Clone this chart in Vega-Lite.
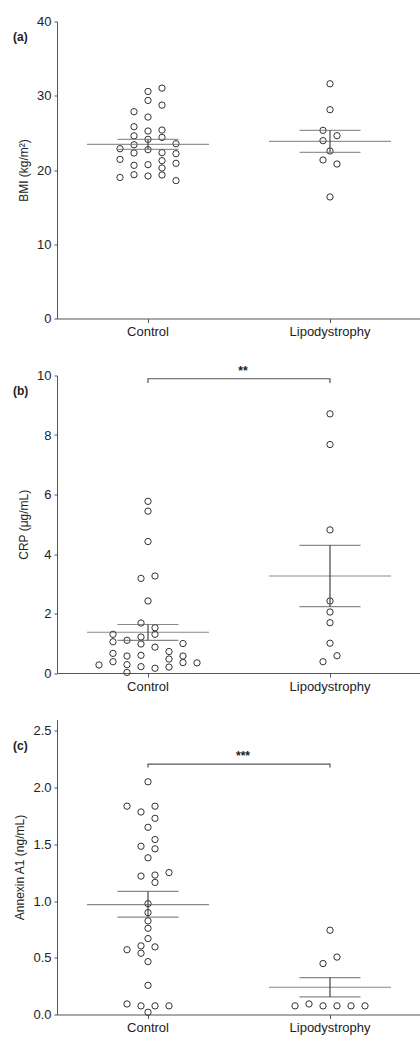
{
  "$schema": "https://vega.github.io/schema/vega-lite/v6.json",
  "padding": {"top": 15.5, "left": 13, "right": 0, "bottom": 0},
  "spacing": 26,
  "config": {
    "font": "Liberation Sans",
    "view": {"stroke": null},
    "axis": {"grid": false, "domainColor": "#555", "tickColor": "#555", "tickSize": 3, "labelFontSize": 13, "titleFontSize": 12, "titleFontWeight": "normal", "labelColor": "#222", "titleColor": "#222", "labelPadding": 3, "titlePadding": 6}
  },
  "datasets": {
    "bmi": [
      {"g": "Control", "c": -4, "v": 22.87}, {"g": "Control", "c": -4, "v": 21.43}, {"g": "Control", "c": -4, "v": 19.0},
      {"g": "Control", "c": -2, "v": 27.85}, {"g": "Control", "c": -2, "v": 25.83}, {"g": "Control", "c": -2, "v": 24.6}, {"g": "Control", "c": -2, "v": 23.4}, {"g": "Control", "c": -2, "v": 22.29}, {"g": "Control", "c": -2, "v": 20.63}, {"g": "Control", "c": -2, "v": 19.37},
      {"g": "Control", "c": 0, "v": 30.58}, {"g": "Control", "c": 0, "v": 29.37}, {"g": "Control", "c": 0, "v": 27.13}, {"g": "Control", "c": 0, "v": 25.25}, {"g": "Control", "c": 0, "v": 24.13}, {"g": "Control", "c": 0, "v": 22.74}, {"g": "Control", "c": 0, "v": 20.72}, {"g": "Control", "c": 0, "v": 19.19},
      {"g": "Control", "c": 2, "v": 31.03}, {"g": "Control", "c": 2, "v": 28.74}, {"g": "Control", "c": 2, "v": 25.38}, {"g": "Control", "c": 2, "v": 24.39}, {"g": "Control", "c": 2, "v": 22.33}, {"g": "Control", "c": 2, "v": 21.26}, {"g": "Control", "c": 2, "v": 20.27}, {"g": "Control", "c": 2, "v": 19.33},
      {"g": "Control", "c": 4, "v": 23.54}, {"g": "Control", "c": 4, "v": 22.2}, {"g": "Control", "c": 4, "v": 20.9}, {"g": "Control", "c": 4, "v": 18.57},
      {"g": "Lipodystrophy", "c": 0, "v": 31.61}, {"g": "Lipodystrophy", "c": 0, "v": 28.12}, {"g": "Lipodystrophy", "c": 0, "v": 22.56}, {"g": "Lipodystrophy", "c": 0, "v": 16.37},
      {"g": "Lipodystrophy", "c": -1, "v": 25.34}, {"g": "Lipodystrophy", "c": -1, "v": 23.95}, {"g": "Lipodystrophy", "c": -1, "v": 21.35},
      {"g": "Lipodystrophy", "c": 1, "v": 24.62}, {"g": "Lipodystrophy", "c": 1, "v": 20.81}
    ],
    "bmiStats": [
      {"g": "Control", "mean": 23.45, "lo": 22.78, "hi": 24.13},
      {"g": "Lipodystrophy", "mean": 23.86, "lo": 22.38, "hi": 25.34}
    ],
    "bmiTag": [{"g": "Control", "y": 40, "t": "(a)"}],
    "crp": [
      {"g": "Control", "c": -7, "v": 0.27},
      {"g": "Control", "c": -5, "v": 1.30}, {"g": "Control", "c": -5, "v": 1.05}, {"g": "Control", "c": -5, "v": 0.66}, {"g": "Control", "c": -5, "v": 0.38},
      {"g": "Control", "c": -3, "v": 1.10}, {"g": "Control", "c": -3, "v": 0.57}, {"g": "Control", "c": -3, "v": 0.28}, {"g": "Control", "c": -3, "v": 0.02},
      {"g": "Control", "c": -1, "v": 3.18}, {"g": "Control", "c": -1, "v": 1.68}, {"g": "Control", "c": -1, "v": 1.21}, {"g": "Control", "c": -1, "v": 0.975}, {"g": "Control", "c": -1, "v": 0.594}, {"g": "Control", "c": -1, "v": 0.213},
      {"g": "Control", "c": 0, "v": 5.77}, {"g": "Control", "c": 0, "v": 5.44}, {"g": "Control", "c": 0, "v": 4.42}, {"g": "Control", "c": 0, "v": 2.42},
      {"g": "Control", "c": 1, "v": 3.26}, {"g": "Control", "c": 1, "v": 1.52}, {"g": "Control", "c": 1, "v": 1.30}, {"g": "Control", "c": 1, "v": 0.87}, {"g": "Control", "c": 1, "v": 0.16},
      {"g": "Control", "c": 3, "v": 0.72}, {"g": "Control", "c": 3, "v": 0.47}, {"g": "Control", "c": 3, "v": 0.20},
      {"g": "Control", "c": 5, "v": 0.99}, {"g": "Control", "c": 5, "v": 0.57}, {"g": "Control", "c": 5, "v": 0.35},
      {"g": "Control", "c": 7, "v": 0.34},
      {"g": "Lipodystrophy", "c": 0, "v": 8.71}, {"g": "Lipodystrophy", "c": 0, "v": 7.68}, {"g": "Lipodystrophy", "c": 0, "v": 4.81}, {"g": "Lipodystrophy", "c": 0, "v": 2.42}, {"g": "Lipodystrophy", "c": 0, "v": 2.05}, {"g": "Lipodystrophy", "c": 0, "v": 1.69}, {"g": "Lipodystrophy", "c": 0, "v": 1.0},
      {"g": "Lipodystrophy", "c": -1, "v": 0.38}, {"g": "Lipodystrophy", "c": 1, "v": 0.58}
    ],
    "crpStats": [
      {"g": "Control", "mean": 1.37, "lo": 1.10, "hi": 1.63},
      {"g": "Lipodystrophy", "mean": 3.26, "lo": 2.23, "hi": 4.29}
    ],
    "crpBracket": [
      {"g": "Control", "y": 9.75, "o": 1}, {"g": "Control", "y": 9.89, "o": 2},
      {"g": "Lipodystrophy", "y": 9.89, "o": 3}, {"g": "Lipodystrophy", "y": 9.75, "o": 4}
    ],
    "crpSig": [{"g": "Lipodystrophy", "y": 9.93, "t": "**"}],
    "crpTag": [{"g": "Control", "y": 10, "t": "(b)"}],
    "anx": [
      {"g": "Control", "c": -3, "v": 1.836}, {"g": "Control", "c": -3, "v": 0.571}, {"g": "Control", "c": -3, "v": 0.093},
      {"g": "Control", "c": -1, "v": 1.785}, {"g": "Control", "c": -1, "v": 1.483}, {"g": "Control", "c": -1, "v": 1.220}, {"g": "Control", "c": -1, "v": 0.605}, {"g": "Control", "c": -1, "v": 0.540}, {"g": "Control", "c": -1, "v": 0.076},
      {"g": "Control", "c": 0, "v": 2.051}, {"g": "Control", "c": 0, "v": 1.650}, {"g": "Control", "c": 0, "v": 1.381}, {"g": "Control", "c": 0, "v": 0.977}, {"g": "Control", "c": 0, "v": 0.898}, {"g": "Control", "c": 0, "v": 0.825}, {"g": "Control", "c": 0, "v": 0.760}, {"g": "Control", "c": 0, "v": 0.669}, {"g": "Control", "c": 0, "v": 0.466}, {"g": "Control", "c": 0, "v": 0.257}, {"g": "Control", "c": 0, "v": 0.020},
      {"g": "Control", "c": 1, "v": 1.836}, {"g": "Control", "c": 1, "v": 1.729}, {"g": "Control", "c": 1, "v": 1.542}, {"g": "Control", "c": 1, "v": 1.460}, {"g": "Control", "c": 1, "v": 1.229}, {"g": "Control", "c": 1, "v": 1.164}, {"g": "Control", "c": 1, "v": 0.596}, {"g": "Control", "c": 1, "v": 0.076},
      {"g": "Control", "c": 3, "v": 1.251}, {"g": "Control", "c": 3, "v": 0.076},
      {"g": "Lipodystrophy", "c": 0, "v": 0.743}, {"g": "Lipodystrophy", "c": -1, "v": 0.449}, {"g": "Lipodystrophy", "c": 1, "v": 0.506},
      {"g": "Lipodystrophy", "c": -5, "v": 0.076}, {"g": "Lipodystrophy", "c": -3, "v": 0.093}, {"g": "Lipodystrophy", "c": -1, "v": 0.076}, {"g": "Lipodystrophy", "c": 1, "v": 0.076}, {"g": "Lipodystrophy", "c": 3, "v": 0.076}, {"g": "Lipodystrophy", "c": 5, "v": 0.076}
    ],
    "anxStats": [
      {"g": "Control", "mean": 0.969, "lo": 0.859, "hi": 1.085},
      {"g": "Lipodystrophy", "mean": 0.24, "lo": 0.155, "hi": 0.325}
    ],
    "anxBracket": [
      {"g": "Control", "y": 2.176, "o": 1}, {"g": "Control", "y": 2.207, "o": 2},
      {"g": "Lipodystrophy", "y": 2.207, "o": 3}, {"g": "Lipodystrophy", "y": 2.176, "o": 4}
    ],
    "anxSig": [{"g": "Lipodystrophy", "y": 2.22, "t": "***"}],
    "anxTag": [{"g": "Control", "y": 2.5, "t": "(c)"}]
  },
  "vconcat": [
    {
      "width": 364, "height": 297,
      "encoding": {
        "x": {"field": "g", "type": "nominal", "scale": {"domain": ["Control", "Lipodystrophy"], "paddingInner": 0, "paddingOuter": 0}, "axis": {"title": null, "labelAngle": 0, "tickSize": 4}}
      },
      "layer": [
        {"data": {"name": "bmi"}, "mark": {"type": "point", "filled": false, "stroke": "#333", "strokeWidth": 1, "size": 40, "opacity": 1},
         "encoding": {"xOffset": {"field": "c", "type": "quantitative", "scale": {"domain": [-13, 13]}}, "y": {"field": "v", "type": "quantitative", "scale": {"domain": [0, 40]}, "axis": {"values": [0, 10, 20, 30, 40], "title": "BMI (kg/m²)"}}}},
        {"data": {"name": "bmiStats"}, "mark": {"type": "tick", "size": 122, "thickness": 1.2, "color": "#666"}, "encoding": {"y": {"field": "mean", "type": "quantitative"}}},
        {"data": {"name": "bmiStats"}, "mark": {"type": "tick", "size": 61, "thickness": 1.2, "color": "#666"}, "encoding": {"y": {"field": "lo", "type": "quantitative"}}},
        {"data": {"name": "bmiStats"}, "mark": {"type": "tick", "size": 61, "thickness": 1.2, "color": "#666"}, "encoding": {"y": {"field": "hi", "type": "quantitative"}}},
        {"data": {"name": "bmiStats"}, "mark": {"type": "rule", "strokeWidth": 1.2, "color": "#444"}, "encoding": {"y": {"field": "lo", "type": "quantitative"}, "y2": {"field": "hi"}}},
        {"data": {"name": "bmiTag"}, "mark": {"type": "text", "fontSize": 12, "fontWeight": "bold", "align": "left", "baseline": "middle", "dx": -44, "dy": 15, "color": "#222"}, "encoding": {"x": {"field": "g", "type": "nominal", "bandPosition": 0}, "y": {"field": "y", "type": "quantitative"}, "text": {"field": "t"}}}
      ]
    },
    {
      "width": 364, "height": 297.5,
      "encoding": {
        "x": {"field": "g", "type": "nominal", "scale": {"domain": ["Control", "Lipodystrophy"], "paddingInner": 0, "paddingOuter": 0}, "axis": {"title": null, "labelAngle": 0, "tickSize": 4}}
      },
      "layer": [
        {"data": {"name": "crp"}, "mark": {"type": "point", "filled": false, "stroke": "#333", "strokeWidth": 1, "size": 40, "opacity": 1},
         "encoding": {"xOffset": {"field": "c", "type": "quantitative", "scale": {"domain": [-13, 13]}}, "y": {"field": "v", "type": "quantitative", "scale": {"domain": [0, 10]}, "axis": {"values": [0, 2, 4, 6, 8, 10], "title": "CRP (μg/mL)"}}}},
        {"data": {"name": "crpStats"}, "mark": {"type": "tick", "size": 122, "thickness": 1.2, "color": "#555"}, "encoding": {"y": {"field": "mean", "type": "quantitative"}}},
        {"data": {"name": "crpStats"}, "mark": {"type": "tick", "size": 61, "thickness": 1.2, "color": "#555"}, "encoding": {"y": {"field": "lo", "type": "quantitative"}}},
        {"data": {"name": "crpStats"}, "mark": {"type": "tick", "size": 61, "thickness": 1.2, "color": "#555"}, "encoding": {"y": {"field": "hi", "type": "quantitative"}}},
        {"data": {"name": "crpStats"}, "mark": {"type": "rule", "strokeWidth": 1.2, "color": "#444"}, "encoding": {"y": {"field": "lo", "type": "quantitative"}, "y2": {"field": "hi"}}},
        {"data": {"name": "crpBracket"}, "mark": {"type": "line", "strokeWidth": 1.2, "color": "#555"}, "encoding": {"y": {"field": "y", "type": "quantitative"}, "order": {"field": "o"}}},
        {"data": {"name": "crpSig"}, "mark": {"type": "text", "fontSize": 12, "fontWeight": "bold", "baseline": "bottom", "dx": 4, "color": "#222"}, "encoding": {"x": {"field": "g", "type": "nominal", "bandPosition": 0}, "y": {"field": "y", "type": "quantitative"}, "text": {"field": "t"}}},
        {"data": {"name": "crpTag"}, "mark": {"type": "text", "fontSize": 12, "fontWeight": "bold", "align": "left", "baseline": "middle", "dx": -44, "dy": 15, "color": "#222"}, "encoding": {"x": {"field": "g", "type": "nominal", "bandPosition": 0}, "y": {"field": "y", "type": "quantitative"}, "text": {"field": "t"}}}
      ]
    },
    {
      "width": 364, "height": 295,
      "encoding": {
        "x": {"field": "g", "type": "nominal", "scale": {"domain": ["Control", "Lipodystrophy"], "paddingInner": 0, "paddingOuter": 0}, "axis": {"title": null, "labelAngle": 0, "tickSize": 4}}
      },
      "layer": [
        {"data": {"name": "anx"}, "mark": {"type": "point", "filled": false, "stroke": "#333", "strokeWidth": 1, "size": 40, "opacity": 1},
         "encoding": {"xOffset": {"field": "c", "type": "quantitative", "scale": {"domain": [-13, 13]}}, "y": {"field": "v", "type": "quantitative", "scale": {"domain": [0, 2.5]}, "axis": {"values": [0, 0.5, 1, 1.5, 2, 2.5], "format": ".1f", "title": "Annexin A1 (ng/mL)"}}}},
        {"data": {"name": "anxStats"}, "mark": {"type": "tick", "size": 122, "thickness": 1.2, "color": "#555"}, "encoding": {"y": {"field": "mean", "type": "quantitative"}}},
        {"data": {"name": "anxStats"}, "mark": {"type": "tick", "size": 61, "thickness": 1.2, "color": "#555"}, "encoding": {"y": {"field": "lo", "type": "quantitative"}}},
        {"data": {"name": "anxStats"}, "mark": {"type": "tick", "size": 61, "thickness": 1.2, "color": "#555"}, "encoding": {"y": {"field": "hi", "type": "quantitative"}}},
        {"data": {"name": "anxStats"}, "mark": {"type": "rule", "strokeWidth": 1.2, "color": "#444"}, "encoding": {"y": {"field": "lo", "type": "quantitative"}, "y2": {"field": "hi"}}},
        {"data": {"name": "anxBracket"}, "mark": {"type": "line", "strokeWidth": 1.2, "color": "#555"}, "encoding": {"y": {"field": "y", "type": "quantitative"}, "order": {"field": "o"}}},
        {"data": {"name": "anxSig"}, "mark": {"type": "text", "fontSize": 12, "fontWeight": "bold", "baseline": "bottom", "dx": 4, "color": "#222"}, "encoding": {"x": {"field": "g", "type": "nominal", "bandPosition": 0}, "y": {"field": "y", "type": "quantitative"}, "text": {"field": "t"}}},
        {"data": {"name": "anxTag"}, "mark": {"type": "text", "fontSize": 12, "fontWeight": "bold", "align": "left", "baseline": "middle", "dx": -44, "dy": 15, "color": "#222"}, "encoding": {"x": {"field": "g", "type": "nominal", "bandPosition": 0}, "y": {"field": "y", "type": "quantitative"}, "text": {"field": "t"}}}
      ]
    }
  ]
}
